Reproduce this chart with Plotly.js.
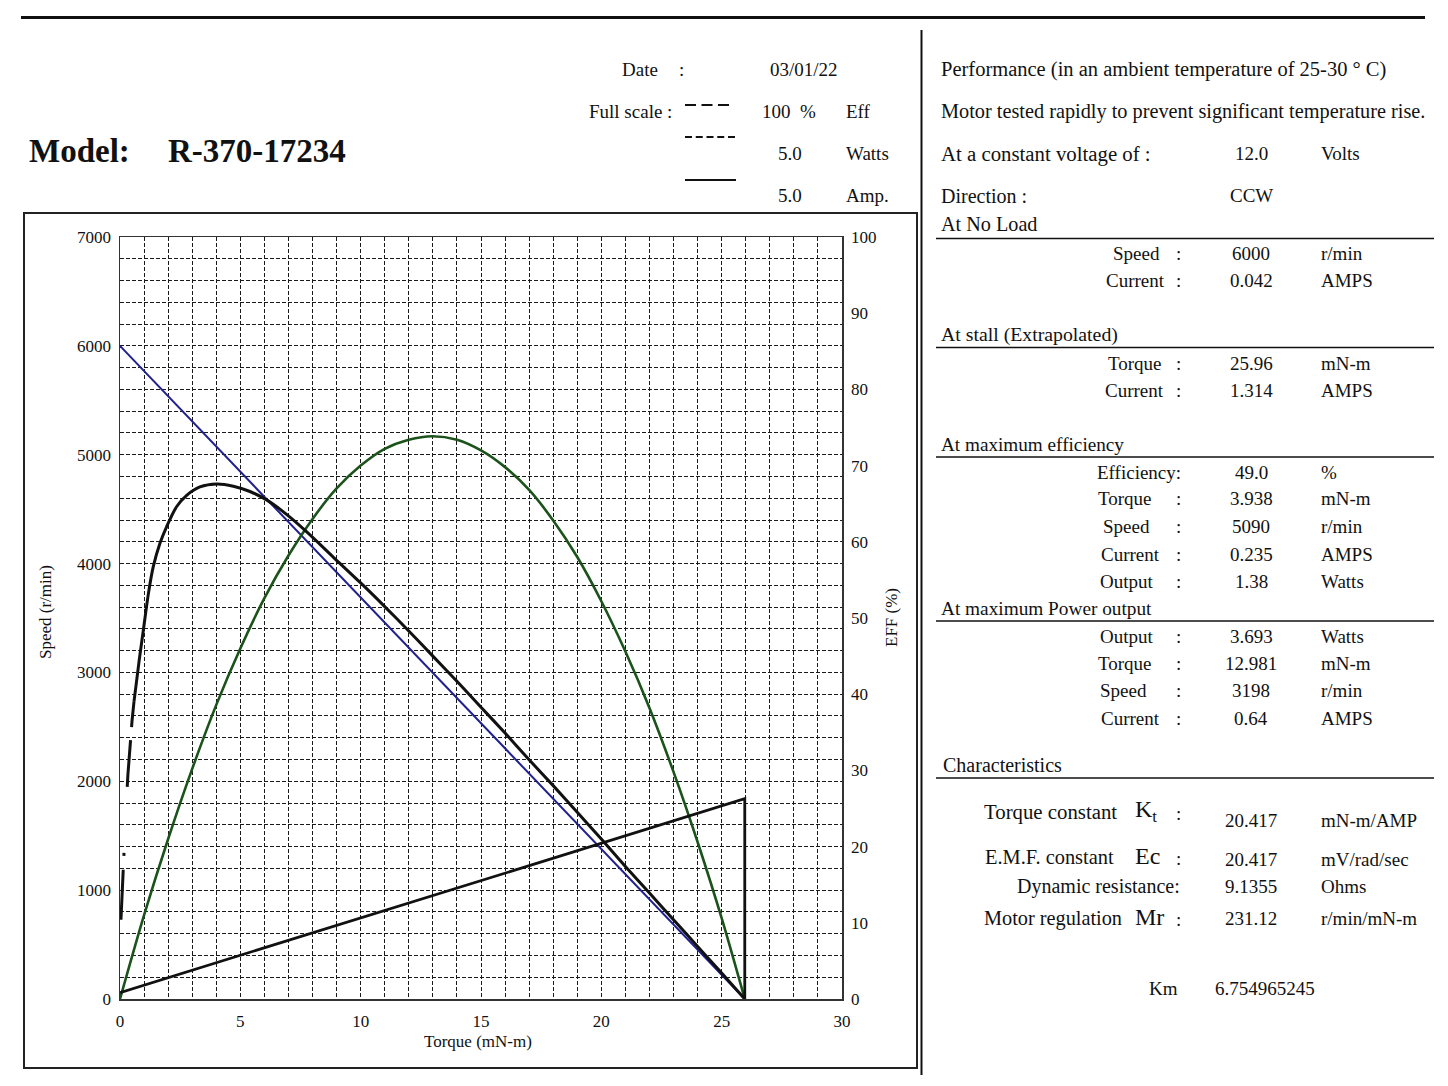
<!DOCTYPE html>
<html>
<head>
<meta charset="utf-8">
<title>R-370-17234 motor performance</title>
<script src="https://cdn.plot.ly/plotly-3.0.1.min.js"></script>
<style>
  html, body { margin: 0; padding: 0; background: #fff; }
  #chart { width: 1448px; height: 1086px; }
</style>
</head>
<body>
<div id="chart"></div>
<script>
// ---- Curve data (torque in mN-m) ----
// Speed / torque line (left axis, r/min)
const torqueSpeed = [0, 25.96];
const speedRpm = [6000, 0];

// Current line (amps, drawn against a 5.0 A full scale), drops to zero at stall
const torqueCurrent = [0, 25.96, 25.96];
const currentAmps = [0.042, 1.314, 0];

// Output power (watts, drawn against a 5.0 W full scale)
const torquePower = [0, 1, 2, 3, 4, 5, 6, 7, 8, 9, 10, 11, 12, 12.98, 14, 15, 16, 17, 18, 19, 20, 21, 22, 23, 24, 25, 25.96];
const powerWatts = [0, 0.55, 1.05, 1.51, 1.93, 2.30, 2.63, 2.91, 3.15, 3.35, 3.50, 3.61, 3.67, 3.693, 3.67, 3.60, 3.49, 3.34, 3.14, 2.90, 2.61, 2.28, 1.91, 1.49, 1.03, 0.53, 0];

// Efficiency curve (%), the first points are drawn broken
const torqueEff = [0.04, 0.10, 0.17, 0.25, 0.33, 0.42, 0.50, 0.58,
  0.80, 0.97, 1.18, 1.38, 1.66, 1.94, 2.35, 2.77, 3.32, 4.02, 4.71, 5.40, 6.09, 6.92, 7.76, 8.86,
  10, 11, 12, 13, 14, 15, 16, 17, 18, 19, 20, 21, 22, 23, 24, 25, 25.96];
const effPct = [10.4, 15.0, 19.5, 25.0, 29.5, 33.5, 36.5, 39.0,
  44.5, 48.4, 53.2, 56.7, 59.8, 62.0, 64.6, 66.1, 67.2, 67.6, 67.3, 66.6, 65.5, 63.6, 61.3, 58.0,
  54.6, 51.5, 48.3, 45.0, 41.7, 38.3, 34.9, 31.4, 28.0, 24.5, 21.0, 17.4, 13.9, 10.4, 6.9, 3.4, 0];
const effSolidFrom = 7;

// Full-scale values of the right axis
const fullScaleEff = 100;
const fullScaleWatts = 5.0;
const fullScaleAmps = 5.0;

// ---- Header / specification text ----
const modelName = 'R-370-17234';
const testDate = '03/01/22';
const scaleValues = ['100', '5.0', '5.0'];
const scaleUnits = ['Eff', 'Watts', 'Amp.'];

const introLines = ['Performance (in an ambient temperature of 25-30 ° C)',
  'Motor tested rapidly to prevent significant temperature rise.'];
const voltage = '12.0';
const direction = 'CCW';

const sectionTitles = ['At No Load', 'At stall (Extrapolated)', 'At maximum efficiency', 'At maximum Power output', 'Characteristics'];

const noLoadLabels = ['Speed', 'Current'];
const noLoadValues = ['6000', '0.042'];
const noLoadUnits = ['r/min', 'AMPS'];

const stallLabels = ['Torque', 'Current'];
const stallValues = ['25.96', '1.314'];
const stallUnits = ['mN-m', 'AMPS'];

const maxEffLabels = ['Efficiency:', 'Torque', 'Speed', 'Current', 'Output'];
const maxEffValues = ['49.0', '3.938', '5090', '0.235', '1.38'];
const maxEffUnits = ['%', 'mN-m', 'r/min', 'AMPS', 'Watts'];

const maxPowLabels = ['Output', 'Torque', 'Speed', 'Current'];
const maxPowValues = ['3.693', '12.981', '3198', '0.64'];
const maxPowUnits = ['Watts', 'mN-m', 'r/min', 'AMPS'];

const charLabels = ['Torque constant', 'E.M.F. constant', 'Dynamic resistance:', 'Motor regulation'];
const charSymbols = ['K<sub>t</sub>', 'Ec', '', 'Mr'];
const charValues = ['20.417', '20.417', '9.1355', '231.12'];
const charUnits = ['mN-m/AMP', 'mV/rad/sec', 'Ohms', 'r/min/mN-m'];
const kmValue = '6.754965245';

// ---- Drawing ----
const W = 1448, H = 1086;
const SERIF = '"Liberation Serif", "Times New Roman", serif';
const INK = '#111';
const px = x => x / W;
const py = y => 1 - y / H;

const annotations = [];
function txt(s, x, y, anchor, size, extra) {
  annotations.push(Object.assign({
    text: s, x: px(x), y: py(y), xref: 'paper', yref: 'paper',
    xanchor: anchor, yanchor: 'middle', showarrow: false, borderpad: 0,
    font: { family: SERIF, size: size, color: INK }
  }, extra || {}));
}

const shapes = [];
function hline(x0, x1, y, width, dash) {
  shapes.push({ type: 'line', xref: 'paper', yref: 'paper', x0: px(x0), x1: px(x1), y0: py(y), y1: py(y),
    line: { color: INK, width: width, dash: dash || 'solid' } });
}
function vline(x, y0, y1, width) {
  shapes.push({ type: 'line', xref: 'paper', yref: 'paper', x0: px(x), x1: px(x), y0: py(y0), y1: py(y1),
    line: { color: INK, width: width } });
}

// Page frame
hline(21, 1425, 17.5, 3);
shapes.push({ type: 'rect', xref: 'paper', yref: 'paper', x0: px(24), x1: px(917), y0: py(213), y1: py(1068),
  line: { color: '#222', width: 2 } });
vline(921.5, 30, 1075, 2);

// Header
const boldFont = { family: SERIF, size: 33, color: INK, weight: 'bold' };
txt('Model:', 28, 151, 'left', 33, { font: boldFont });
txt(modelName, 167, 151, 'left', 33, { font: boldFont });
txt('Date', 621, 70, 'left', 19);
txt(':', 681, 70, 'center', 19);
txt(testDate, 804, 70, 'center', 19);
txt('Full scale :', 673, 112, 'right', 19);
hline(685, 729, 105, 1.8, '11px,5.5px');
hline(685, 735, 137, 1.8, '7px,3.75px');
hline(685, 736, 180, 2);
txt(scaleValues[0], 776, 112, 'center', 19);
txt('%', 808, 112, 'center', 19);
txt(scaleValues[1], 790, 154, 'center', 19);
txt(scaleValues[2], 790, 196, 'center', 19);
[112, 154, 196].forEach((y, i) => txt(scaleUnits[i], 845, y, 'left', 19));

// Axis titles
txt('Speed (r/min)', 45, 612, 'center', 17, { textangle: -90 });
txt('EFF (%)', 891, 618, 'center', 17, { textangle: -90 });
txt('Torque (mN-m)', 478, 1041, 'center', 17);

// Specification panel
const TS = 19;
const colonX = 1178, valueX = 1251, unitX = 1320;
txt(introLines[0], 940, 70, 'left', 20.5);
txt(introLines[1], 940, 112, 'left', 20.3);
txt('At a constant voltage of :', 940, 154, 'left', 20.8);
txt(voltage, valueX, 154, 'center', TS);
txt('Volts', unitX, 154, 'left', TS);
txt('Direction :', 940, 196, 'left', 20);
txt(direction, valueX, 196, 'center', TS);

const sectionY = [224, 334, 444, 608, 765];
const ruleY = [238.5, 347.5, 457, 621, 778];
const sectionSize = [20.2, 19.8, 19.2, 19.3, 20];
sectionTitles.forEach((t, i) => {
  txt(t, i === 4 ? 942 : 940, sectionY[i], 'left', sectionSize[i]);
  hline(936, 1434, ruleY[i], 1.6);
});

function rows(labels, values, units, lefts, ys) {
  labels.forEach((l, i) => {
    txt(l, lefts[i], ys[i], 'left', TS);
    if (!l.endsWith(':')) txt(':', colonX, ys[i], 'center', TS);
    txt(values[i], valueX, ys[i], 'center', TS);
    txt(units[i], unitX, ys[i], 'left', TS);
  });
}
rows(noLoadLabels, noLoadValues, noLoadUnits, [1112, 1105], [253, 280]);
rows(stallLabels, stallValues, stallUnits, [1107, 1104], [363, 390]);
rows(maxEffLabels, maxEffValues, maxEffUnits, [1096, 1097, 1102, 1100, 1099], [472, 498, 526, 554, 581]);
rows(maxPowLabels, maxPowValues, maxPowUnits, [1099, 1097, 1099, 1100], [636, 663, 690, 718]);

const charLabelX = [983, 984, 1016, 983];
const charLabelY = [812, 857, 886, 918];
const charValueY = [820, 859, 886, 918];
const charLabelSize = [20.8, 20.4, 20, 20.3];
charLabels.forEach((l, i) => {
  txt(l, charLabelX[i], charLabelY[i], 'left', charLabelSize[i]);
  if (charSymbols[i]) {
    txt(charSymbols[i], 1134, charLabelY[i] - 1, 'left', 24);
    txt(':', colonX, charLabelY[i] + 1, 'center', TS);
  }
  txt(charValues[i], valueX, charValueY[i], 'center', TS);
  txt(charUnits[i], unitX, charValueY[i], 'left', TS);
});
txt('Km', 1148, 988, 'left', TS);
txt(kmValue, 1214, 988, 'left', TS);

// Curves
const toScale = (arr, full) => arr.map(v => v / full * 100);
const traces = [
  { x: torqueSpeed, y: speedRpm, yaxis: 'y', mode: 'lines', name: 'Speed',
    line: { color: '#20208f', width: 2 } },
  { x: torquePower, y: toScale(powerWatts, fullScaleWatts), yaxis: 'y2', mode: 'lines', name: 'Output',
    line: { color: '#1b531b', width: 2.6, shape: 'spline', smoothing: 0.8 } },
  { x: torqueEff.slice(0, effSolidFrom + 1), y: toScale(effPct.slice(0, effSolidFrom + 1), fullScaleEff),
    yaxis: 'y2', mode: 'lines', name: 'Efficiency',
    line: { color: INK, width: 3, dash: '50px,14px,3px,66px,47px,13px,300px' } },
  { x: torqueEff.slice(effSolidFrom), y: toScale(effPct.slice(effSolidFrom), fullScaleEff),
    yaxis: 'y2', mode: 'lines', name: 'Efficiency',
    line: { color: INK, width: 3, shape: 'spline', smoothing: 0.8 } },
  { x: torqueCurrent, y: toScale(currentAmps, fullScaleAmps), yaxis: 'y2', mode: 'lines', name: 'Current',
    line: { color: INK, width: 2.8 } }
];

const gridStyle = { gridcolor: '#1a1a1a', gridwidth: 1, griddash: '4px,2px' };
const tickFont = { family: SERIF, size: 17, color: INK };
const xDom = [px(120), px(842)];
const yDom = [py(999), py(237)];

const layout = {
  width: W, height: H,
  margin: { l: 0, r: 0, t: 0, b: 0 },
  paper_bgcolor: '#fff', plot_bgcolor: '#fff',
  showlegend: false,
  xaxis: Object.assign({
    domain: xDom, range: [0, 30], dtick: 5, tick0: 0, showgrid: true, zeroline: false,
    showline: true, mirror: true, linecolor: '#333', linewidth: 1.5,
    ticks: '', tickfont: tickFont, ticklabelstandoff: 6, automargin: false,
    minor: Object.assign({ dtick: 1, showgrid: true }, gridStyle)
  }, gridStyle),
  yaxis: Object.assign({
    domain: yDom, range: [0, 7000], dtick: 1000, tick0: 0, showgrid: true, zeroline: false,
    showline: true, mirror: true, linecolor: '#333', linewidth: 1.5,
    ticks: '', tickfont: tickFont, ticklabelstandoff: 4, automargin: false,
    minor: Object.assign({ dtick: 200, showgrid: true }, gridStyle)
  }, gridStyle),
  yaxis2: {
    domain: yDom, range: [0, 100], dtick: 10, tick0: 0, overlaying: 'y', side: 'right', anchor: 'x',
    showgrid: false, zeroline: false, showline: false, ticks: '', tickfont: tickFont,
    ticklabelstandoff: 8, automargin: false
  },
  shapes: shapes,
  annotations: annotations
};

Plotly.newPlot('chart', traces, layout, { displayModeBar: false, staticPlot: true });
</script>
</body>
</html>
